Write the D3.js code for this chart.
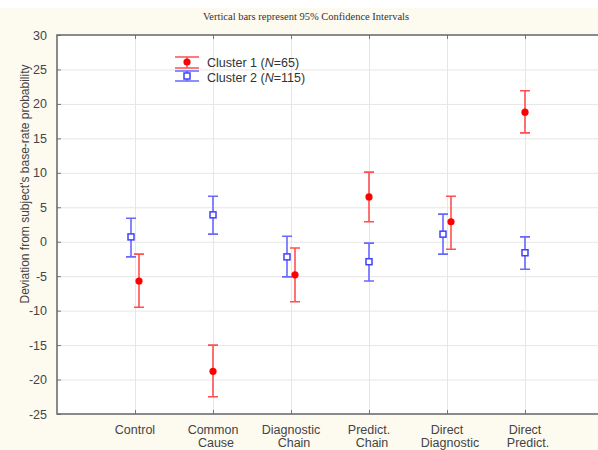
<!DOCTYPE html>
<html>
<head>
<meta charset="utf-8">
<script src="https://cdn.jsdelivr.net/npm/d3@7"></script>
<style>
  body { margin: 0; background: #fdfaf0; }
  svg { display: block; }
</style>
</head>
<body>
<div id="chart"></div>
<script>
// categories (two-line labels) and 95% CI per cluster
const categories = [['Control'], ['Common', 'Cause'], ['Diagnostic', 'Chain'],
  ['Predict.', 'Chain'], ['Direct', 'Diagnostic'], ['Direct', 'Predict.']];
const cluster1Mean = [-5.7, -18.8, -4.8, 6.5, 2.9, 18.8];
const cluster1Low = [-9.5, -22.5, -8.7, 2.9, -1.1, 15.8];
const cluster1High = [-1.8, -15.0, -0.9, 10.1, 6.6, 21.9];
const cluster2Mean = [0.7, 3.9, -2.2, -2.9, 1.1, -1.6];
const cluster2Low = [-2.2, 1.1, -5.1, -5.7, -1.8, -4.0];
const cluster2High = [3.4, 6.6, 0.8, -0.2, 4.0, 0.7];
// categories where the two clusters are drawn side by side
const dodged = [true, false, true, false, true, false];
const yTicks = [30, 25, 20, 15, 10, 5, 0, -5, -10, -15, -20, -25];

const width = 598;
const height = 450;
const margin = { top: 35, left: 57, bottom: 36 };
const plotRight = 603; // the frame runs past the right edge of the picture

const RED = '#ff0000';
const RED_LINE = '#ff5050';
const BLUE = '#4040ff';
const BLUE_LINE = '#6868ff';

const svg = d3.select('#chart').append('svg')
  .attr('width', width)
  .attr('height', height);

svg.append('rect')
  .attr('width', width).attr('height', height)
  .attr('fill', '#fdfaf0');
svg.append('rect')
  .attr('width', width).attr('height', 8)
  .attr('fill', '#ffffff');

const xScale = d3.scaleLinear()
  .domain([0, categories.length + 1])
  .range([margin.left, plotRight]);

const yScale = d3.scaleLinear()
  .domain([-25, 30])
  .range([height - margin.bottom, margin.top]);

// plot background
svg.append('rect')
  .attr('x', margin.left)
  .attr('y', yScale(30))
  .attr('width', plotRight - margin.left)
  .attr('height', yScale(-25) - yScale(30))
  .attr('fill', '#ffffff');

// grid
const grid = svg.append('g').attr('stroke', '#e6e6e6').attr('stroke-width', 1);
grid.selectAll('.hgrid')
  .data(yTicks.filter((d) => d !== 30 && d !== -25))
  .join('line')
  .attr('class', 'hgrid')
  .attr('x1', margin.left).attr('x2', plotRight)
  .attr('y1', (d) => yScale(d) + 0.5).attr('y2', (d) => yScale(d) + 0.5);
grid.selectAll('.vgrid')
  .data(categories)
  .join('line')
  .attr('class', 'vgrid')
  .attr('x1', (d, i) => xScale(i + 1) + 0.5).attr('x2', (d, i) => xScale(i + 1) + 0.5)
  .attr('y1', yScale(30)).attr('y2', yScale(-25));

// axes
const yAxis = d3.axisLeft(yScale).tickValues(yTicks).tickFormat((d) => String(d))
  .tickSizeInner(-4).tickSizeOuter(0).tickPadding(10);
const yAxisG = svg.append('g')
  .attr('transform', `translate(${margin.left},0)`)
  .call(yAxis);
yAxisG.select('.domain').remove();
yAxisG.selectAll('.tick line').attr('stroke', '#777');
yAxisG.selectAll('.tick text')
  .attr('font-family', 'Liberation Sans, Arial, sans-serif')
  .attr('font-size', 12.5)
  .attr('fill', '#444');

const xVals = categories.map((d, i) => i + 1);
const xAxisBottom = d3.axisBottom(xScale).tickValues(xVals).tickSizeInner(-4).tickSizeOuter(0).tickFormat('');
const xb = svg.append('g')
  .attr('transform', `translate(0,${yScale(-25)})`)
  .call(xAxisBottom);
xb.select('.domain').remove();
xb.selectAll('.tick line').attr('stroke', '#777');

const xAxisTop = d3.axisTop(xScale).tickValues(xVals).tickSizeInner(-4).tickSizeOuter(0).tickFormat('');
const xt = svg.append('g')
  .attr('transform', `translate(0,${yScale(30)})`)
  .call(xAxisTop);
xt.select('.domain').remove();
xt.selectAll('.tick line').attr('stroke', '#777');

// frame
const frame = svg.append('g').attr('stroke', '#666').attr('stroke-width', 1.5).attr('fill', 'none');
frame.append('path')
  .attr('d', `M${plotRight},${yScale(30)}H${margin.left}V${yScale(-25)}H${plotRight}`);

// x labels
const xLabels = svg.append('g')
  .attr('font-family', 'Liberation Sans, Arial, sans-serif')
  .attr('font-size', 12.5)
  .attr('fill', '#444')
  .attr('text-anchor', 'middle');
categories.forEach((lines, i) => {
  const t = xLabels.append('text')
    .attr('x', xScale(i + 1))
    .attr('y', yScale(-25) + 20);
  lines.forEach((line, j) => {
    t.append('tspan')
      .attr('x', xScale(i + 1) + (j > 0 ? 3 : 0))
      .attr('dy', j === 0 ? 0 : 13)
      .text(line);
  });
});

// y axis title
svg.append('text')
  .attr('transform', `translate(29,${184}) rotate(-90)`)
  .attr('text-anchor', 'middle')
  .attr('font-family', 'Liberation Sans, Arial, sans-serif')
  .attr('font-size', 12)
  .attr('fill', '#444')
  .text("Deviation from subject's base-rate probability");

// title
svg.append('text')
  .attr('x', 306)
  .attr('y', 20)
  .attr('text-anchor', 'middle')
  .attr('font-family', 'Liberation Serif, Times New Roman, serif')
  .attr('font-size', 10.5)
  .attr('fill', '#333')
  .text('Vertical bars represent 95% Confidence Intervals');

// error bars
const capHalf = 5;
function drawSeries(means, lows, highs, offset, lineColor, cls) {
  const g = svg.append('g').attr('class', cls);
  const rows = means.map((m, i) => ({
    x: xScale(i + 1) + (dodged[i] ? offset : 0),
    mean: m,
    low: lows[i],
    high: highs[i],
  }));
  g.selectAll('.bar')
    .data(rows)
    .join('path')
    .attr('class', 'bar')
    .attr('fill', 'none')
    .attr('stroke', lineColor)
    .attr('stroke-width', 1.6)
    .attr('d', (d) => {
      const yl = yScale(d.low);
      const yh = yScale(d.high);
      return `M${d.x},${yh}V${yl}M${d.x - capHalf},${yh}H${d.x + capHalf}M${d.x - capHalf},${yl}H${d.x + capHalf}`;
    });
  return { g, rows };
}

const s2 = drawSeries(cluster2Mean, cluster2Low, cluster2High, -4, BLUE_LINE, 'cluster2');
s2.g.selectAll('.pt')
  .data(s2.rows)
  .join('rect')
  .attr('class', 'pt')
  .attr('x', (d) => d.x - 3)
  .attr('y', (d) => yScale(d.mean) - 3)
  .attr('width', 6)
  .attr('height', 6)
  .attr('fill', '#ffffff')
  .attr('stroke', BLUE)
  .attr('stroke-width', 1.5);

const s1 = drawSeries(cluster1Mean, cluster1Low, cluster1High, 4, RED_LINE, 'cluster1');
s1.g.selectAll('.pt')
  .data(s1.rows)
  .join('circle')
  .attr('class', 'pt')
  .attr('cx', (d) => d.x)
  .attr('cy', (d) => yScale(d.mean))
  .attr('r', 3.6)
  .attr('fill', RED);

// legend
const legend = svg.append('g').attr('transform', 'translate(187,0)');
legend.append('path')
  .attr('d', 'M-12,57H12M0,57V68M-12,68H12')
  .attr('stroke', RED_LINE).attr('stroke-width', 1.6).attr('fill', 'none');
legend.append('circle').attr('cx', 0).attr('cy', 62).attr('r', 3.6).attr('fill', RED);
legend.append('path')
  .attr('d', 'M-12,71H12M0,71V81M-12,81H12')
  .attr('stroke', BLUE_LINE).attr('stroke-width', 1.6).attr('fill', 'none');
legend.append('rect').attr('x', -3).attr('y', 73).attr('width', 6).attr('height', 6)
  .attr('fill', '#fff').attr('stroke', BLUE).attr('stroke-width', 1.5);

const legendLabels = [['Cluster 1 (', 'N', '=65)'], ['Cluster 2 (', 'N', '=115)']];
legendLabels.forEach((parts, i) => {
  const t = legend.append('text')
    .attr('x', 20)
    .attr('y', 67 + i * 15)
    .attr('font-family', 'Liberation Sans, Arial, sans-serif')
    .attr('font-size', 12.5)
    .attr('fill', '#333');
  t.append('tspan').text(parts[0]);
  t.append('tspan').attr('font-style', 'italic').text(parts[1]);
  t.append('tspan').text(parts[2]);
});
</script>
</body>
</html>
